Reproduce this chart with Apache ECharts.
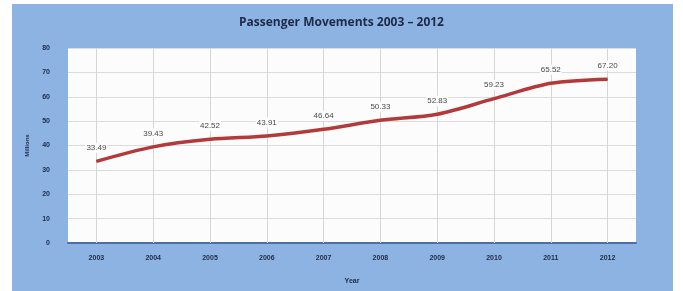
<!DOCTYPE html>
<html>
<head>
<meta charset="utf-8">
<script src="https://cdn.jsdelivr.net/npm/echarts@6/dist/echarts.min.js"></script>
<style>
  html, body { margin: 0; padding: 0; background: #fff; }
  #chart { width: 683px; height: 291px; }
</style>
</head>
<body>
<div id="chart"></div>
<script>
var years = ['2003', '2004', '2005', '2006', '2007', '2008', '2009', '2010', '2011', '2012']
var passengers = [33.49, 39.43, 42.52, 43.91, 46.64, 50.33, 52.83, 59.23, 65.52, 67.20]
var yTicks = [0, 10, 20, 30, 40, 50, 60, 70, 80]

var chart = echarts.init(document.getElementById('chart'))
chart.setOption({
  backgroundColor: '#fff',
  animation: false,
  graphic: [{
    type: 'rect',
    z: -10,
    shape: { x: 12, y: 4, width: 661, height: 291 },
    style: { fill: '#8db3e2' }
  }],
  title: {
    text: 'Passenger Movements 2003 \u2013 2012',
    left: 'center',
    top: 12,
    textStyle: { fontFamily: 'Open Sans', fontSize: 12, fontWeight: 'bold', color: '#1e2a48' }
  },
  grid: {
    left: 68,
    right: 47,
    top: 48,
    bottom: 48,
    show: true,
    backgroundColor: '#fdfcfd',
    borderWidth: 0
  },
  xAxis: {
    type: 'category',
    data: years,
    name: 'Year',
    nameLocation: 'middle',
    nameGap: 35,
    nameTextStyle: { fontSize: 7, fontWeight: 'bold', color: '#1e2a48' },
    axisLine: { lineStyle: { color: '#4a6fa8', width: 2 } },
    axisTick: { show: false },
    axisLabel: { fontSize: 7, fontWeight: 'bold', color: '#1e2a48', margin: 12 },
    splitLine: { show: false }
  },
  yAxis: {
    type: 'value',
    min: yTicks[0],
    max: yTicks[yTicks.length - 1],
    interval: 10,
    name: 'Millions',
    nameLocation: 'middle',
    nameGap: 38,
    nameTextStyle: { fontSize: 6, fontWeight: 'bold', color: '#1e2a48' },
    axisLine: { show: false },
    axisTick: { show: false },
    axisLabel: { fontSize: 7, fontWeight: 'bold', color: '#1e2a48', margin: 18 },
    splitLine: { lineStyle: { color: '#dcdcdc', width: 1 } }
  },
  series: [{
    type: 'line',
    data: passengers,
    smooth: 0.3,
    symbol: 'circle',
    symbolSize: 1,
    showSymbol: true,
    itemStyle: { color: '#b33a3a' },
    lineStyle: { color: '#b33a3a', width: 3.5 },
    label: {
      show: true,
      position: 'top',
      distance: 8,
      fontSize: 8,
      color: '#4a4a4a',
      backgroundColor: '#fdfcfd',
      padding: [1, 1],
      formatter: function (p) { return p.value.toFixed(2) }
    },
    markLine: {
      silent: true,
      symbol: 'none',
      label: { show: false },
      z: 1,
      lineStyle: { color: '#d6d6d6', width: 1, type: 'solid' },
      data: years.map(function (y) { return { xAxis: y } })
    }
  }]
})
</script>
</body>
</html>
